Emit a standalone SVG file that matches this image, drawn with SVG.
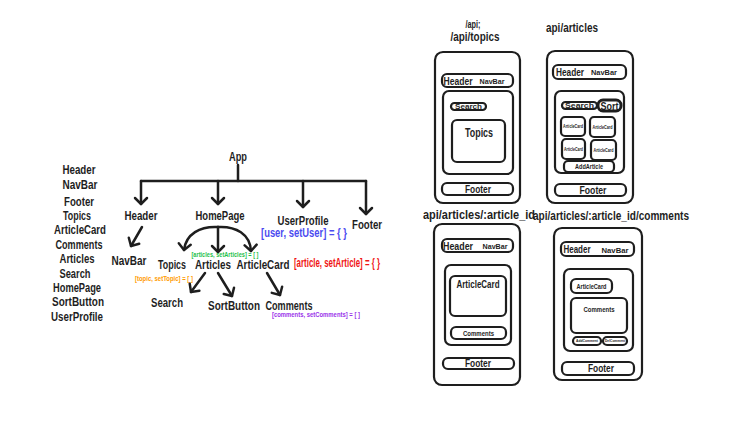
<svg xmlns="http://www.w3.org/2000/svg" width="740" height="426" viewBox="0 0 740 426">
<style>
text{font-family:"Liberation Sans",Arial,sans-serif;font-weight:bold;fill:#1e1e1e;text-anchor:middle;dominant-baseline:central}
.t{font-size:13px}
.l{font-size:13px}
.wl{font-size:12.5px}
.s{font-size:7.5px}
.c{stroke:#1e1e1e;stroke-width:2.5;fill:none;stroke-linecap:round}
.f{stroke:#1e1e1e;stroke-width:2.2;fill:none}
.ft{stroke:#1e1e1e;stroke-width:3;fill:none}
</style>
<defs>
<marker id="ah" markerUnits="userSpaceOnUse" markerWidth="16" markerHeight="16" viewBox="-8 -8 16 16" refX="0" refY="0" orient="auto">
<path d="M-6,-6 L0,0 L-6,6" fill="none" stroke="#1e1e1e" stroke-width="2.5" stroke-linecap="round" stroke-linejoin="round"/>
</marker>
</defs>
<rect width="740" height="426" fill="#ffffff"/>

<g id="component-list">
<text class="l" x="79" y="169" textLength="33" lengthAdjust="spacingAndGlyphs">Header</text>
<text class="l" x="80" y="184" textLength="35" lengthAdjust="spacingAndGlyphs">NavBar</text>
<text class="l" x="79" y="201" textLength="30" lengthAdjust="spacingAndGlyphs">Footer</text>
<text class="l" x="77" y="215" textLength="28" lengthAdjust="spacingAndGlyphs">Topics</text>
<text class="l" x="80" y="229" textLength="52" lengthAdjust="spacingAndGlyphs">ArticleCard</text>
<text class="l" x="79" y="244" textLength="47" lengthAdjust="spacingAndGlyphs">Comments</text>
<text class="l" x="77" y="258" textLength="35" lengthAdjust="spacingAndGlyphs">Articles</text>
<text class="l" x="75" y="273" textLength="31" lengthAdjust="spacingAndGlyphs">Search</text>
<text class="l" x="77" y="287" textLength="48" lengthAdjust="spacingAndGlyphs">HomePage</text>
<text class="l" x="78" y="301" textLength="52" lengthAdjust="spacingAndGlyphs">SortButton</text>
<text class="l" x="77" y="316" textLength="52" lengthAdjust="spacingAndGlyphs">UserProfile</text>
</g>

<g id="connectors">
<path class="c" d="M238,165 L238,181"/>
<path class="c" d="M141,181 L366,181"/>
<path class="c" d="M141,181 L141,204" marker-end="url(#ah)"/>
<path class="c" d="M218,181 L218,204" marker-end="url(#ah)"/>
<path class="c" d="M303,181 L303,207" marker-end="url(#ah)"/>
<path class="c" d="M366,181 L366,214" marker-end="url(#ah)"/>
<path class="c" d="M142,227 L131,246" marker-end="url(#ah)"/>
<path class="c" d="M218,227 C200,226 186,234 184,250" marker-end="url(#ah)"/>
<path class="c" d="M218,227 L218,252" marker-end="url(#ah)"/>
<path class="c" d="M218,227 C236,226 250,234 251,251" marker-end="url(#ah)"/>
<path class="c" d="M205,273 L191,292" marker-end="url(#ah)"/>
<path class="c" d="M218,273 L232,296" marker-end="url(#ah)"/>
<path class="c" d="M267,273 L280,295" marker-end="url(#ah)"/>
</g>

<g id="node-app"><text class="t" x="238" y="156" textLength="18" lengthAdjust="spacingAndGlyphs">App</text></g>
<g id="node-header"><text class="t" x="141" y="215" textLength="33" lengthAdjust="spacingAndGlyphs">Header</text></g>
<g id="node-homepage"><text class="t" x="220" y="215" textLength="49" lengthAdjust="spacingAndGlyphs">HomePage</text></g>
<g id="node-userprofile">
<text class="t" x="303" y="220" textLength="51" lengthAdjust="spacingAndGlyphs">UserProfile</text>
<text x="304" y="233" textLength="86" lengthAdjust="spacingAndGlyphs" style="fill:#4b4bf0;font-size:12.5px">[user, setUser] = { }</text>
</g>
<g id="node-footer"><text class="t" x="367" y="224" textLength="30" lengthAdjust="spacingAndGlyphs">Footer</text></g>
<g id="node-navbar"><text class="t" x="129" y="260" textLength="35" lengthAdjust="spacingAndGlyphs">NavBar</text></g>
<g id="node-topics">
<text class="t" x="172" y="264" textLength="28" lengthAdjust="spacingAndGlyphs">Topics</text>
<text class="s" x="164" y="278" textLength="58" lengthAdjust="spacingAndGlyphs" style="fill:#ff9a00">[topic, setTopic] = [ ]</text>
</g>
<g id="node-articles">
<text class="t" x="213" y="264" textLength="36" lengthAdjust="spacingAndGlyphs">Articles</text>
<text class="s" x="225" y="254" textLength="67" lengthAdjust="spacingAndGlyphs" style="fill:#1fbf4a">[articles, setArticles] = [ ]</text>
</g>
<g id="node-articlecard">
<text class="t" x="263" y="264" textLength="53" lengthAdjust="spacingAndGlyphs">ArticleCard</text>
<text x="337" y="263" textLength="86" lengthAdjust="spacingAndGlyphs" style="fill:#f01414;font-size:12px">[article, setArticle] = { }</text>
</g>
<g id="node-search"><text class="t" x="167" y="302" textLength="32" lengthAdjust="spacingAndGlyphs">Search</text></g>
<g id="node-sortbutton"><text class="t" x="234" y="305" textLength="52" lengthAdjust="spacingAndGlyphs">SortButton</text></g>
<g id="node-comments">
<text class="t" x="289" y="305" textLength="47" lengthAdjust="spacingAndGlyphs">Comments</text>
<text class="s" x="316" y="314.5" textLength="88" lengthAdjust="spacingAndGlyphs" style="fill:#9a32ea">[comments, setComments] = [ ]</text>
</g>

<g id="wireframe-topics">
<text x="473" y="24" textLength="15" lengthAdjust="spacingAndGlyphs" style="font-size:11.5px">/api;</text>
<text class="wl" x="475" y="37" textLength="49" lengthAdjust="spacingAndGlyphs">/api/topics</text>
<rect class="f" x="435" y="52" width="85" height="151" rx="8"/>
<rect class="f" x="442" y="74" width="71" height="13" rx="5"/>
<text x="458" y="80.5" textLength="29" lengthAdjust="spacingAndGlyphs" style="font-size:10.5px">Header</text>
<text x="492" y="81" textLength="25" lengthAdjust="spacingAndGlyphs" style="font-size:8px">NavBar</text>
<rect class="f" x="443" y="91" width="70" height="83" rx="6"/>
<rect class="f" x="451" y="103" width="35" height="7" rx="3.5"/>
<text x="468.5" y="106.5" textLength="27" lengthAdjust="spacingAndGlyphs" style="font-size:7px">Search</text>
<rect class="f" x="452" y="120" width="53" height="42" rx="5"/>
<text x="479" y="133" textLength="28" lengthAdjust="spacingAndGlyphs" style="font-size:12px">Topics</text>
<rect class="f" x="442" y="183" width="71" height="12" rx="5"/>
<text x="478" y="189" textLength="26" lengthAdjust="spacingAndGlyphs" style="font-size:10px">Footer</text>
</g>

<g id="wireframe-articles">
<text class="wl" x="572" y="28" textLength="52" lengthAdjust="spacingAndGlyphs">api/articles</text>
<rect class="f" x="547" y="51" width="86" height="152" rx="8"/>
<rect class="f" x="553" y="65" width="73" height="14" rx="5"/>
<text x="570" y="72" textLength="28" lengthAdjust="spacingAndGlyphs" style="font-size:10.5px">Header</text>
<text x="604" y="72.5" textLength="26" lengthAdjust="spacingAndGlyphs" style="font-size:8px">NavBar</text>
<rect class="f" x="555" y="91" width="69" height="82" rx="6"/>
<rect class="f" x="562" y="102" width="35" height="7" rx="3.5"/>
<text x="579.5" y="105.5" textLength="29" lengthAdjust="spacingAndGlyphs" style="font-size:7px">Search</text>
<rect class="ft" x="598" y="100" width="23" height="11" rx="5"/>
<text x="609.5" y="105.5" textLength="18" lengthAdjust="spacingAndGlyphs" style="font-size:11px">Sort</text>
<rect class="f" x="561" y="117" width="24" height="19" rx="4"/>
<text x="573" y="126.5" textLength="20" lengthAdjust="spacingAndGlyphs" style="font-size:4.5px">ArticleCard</text>
<rect class="f" x="590" y="117" width="25" height="20" rx="4"/>
<text x="602.5" y="127" textLength="20" lengthAdjust="spacingAndGlyphs" style="font-size:4.5px">ArticleCard</text>
<rect class="f" x="562" y="139" width="23" height="20" rx="4"/>
<text x="573.5" y="149" textLength="19" lengthAdjust="spacingAndGlyphs" style="font-size:4.5px">ArticleCard</text>
<rect class="f" x="591" y="140" width="25" height="20" rx="4"/>
<text x="603.5" y="150" textLength="20" lengthAdjust="spacingAndGlyphs" style="font-size:4.5px">ArticleCard</text>
<rect class="f" x="564" y="161" width="50" height="11" rx="4"/>
<text x="589" y="166.5" textLength="28" lengthAdjust="spacingAndGlyphs" style="font-size:7.5px">AddArticle</text>
<rect class="f" x="555" y="184" width="71" height="12" rx="5"/>
<text x="593" y="190" textLength="27" lengthAdjust="spacingAndGlyphs" style="font-size:10px">Footer</text>
</g>

<g id="wireframe-article">
<text class="wl" x="479" y="215" textLength="112" lengthAdjust="spacingAndGlyphs">api/articles/:article_id</text>
<rect class="f" x="434" y="224" width="86" height="161" rx="8"/>
<rect class="f" x="442" y="239" width="71" height="13" rx="5"/>
<text x="458" y="245.5" textLength="30" lengthAdjust="spacingAndGlyphs" style="font-size:10.5px">Header</text>
<text x="495" y="246" textLength="25" lengthAdjust="spacingAndGlyphs" style="font-size:8px">NavBar</text>
<rect class="f" x="445" y="265" width="66" height="80" rx="6"/>
<rect class="f" x="450" y="276" width="56" height="40" rx="5"/>
<text x="478" y="284" textLength="43" lengthAdjust="spacingAndGlyphs" style="font-size:10px">ArticleCard</text>
<rect class="f" x="451" y="327" width="55" height="12" rx="5"/>
<text x="478.5" y="333" textLength="31" lengthAdjust="spacingAndGlyphs" style="font-size:6.5px">Comments</text>
<rect class="f" x="443" y="358" width="71" height="11" rx="5"/>
<text x="478" y="363.5" textLength="26" lengthAdjust="spacingAndGlyphs" style="font-size:10px">Footer</text>
</g>

<g id="wireframe-comments">
<text class="wl" x="611" y="216" textLength="156" lengthAdjust="spacingAndGlyphs">api/articles/:article_id/comments</text>
<rect class="f" x="554" y="228" width="88" height="152" rx="8"/>
<rect class="f" x="561" y="242" width="73" height="14" rx="5"/>
<text x="577" y="249" textLength="27" lengthAdjust="spacingAndGlyphs" style="font-size:10.5px">Header</text>
<text x="615" y="250" textLength="27" lengthAdjust="spacingAndGlyphs" style="font-size:8px">NavBar</text>
<rect class="f" x="564" y="269" width="69" height="82" rx="6"/>
<rect class="f" x="571" y="279" width="41" height="14" rx="5"/>
<text x="591.5" y="286" textLength="30" lengthAdjust="spacingAndGlyphs" style="font-size:6.5px">ArticleCard</text>
<rect class="f" x="571" y="298" width="56" height="35" rx="5"/>
<text x="599" y="309" textLength="31" lengthAdjust="spacingAndGlyphs" style="font-size:7px">Comments</text>
<rect class="f" x="573" y="337" width="28" height="8" rx="4"/>
<text x="587" y="341" textLength="22" lengthAdjust="spacingAndGlyphs" style="font-size:3.5px">AddComment</text>
<rect class="f" x="603" y="337" width="24" height="8" rx="4"/>
<text x="615" y="341" textLength="20" lengthAdjust="spacingAndGlyphs" style="font-size:3.5px">DelComment</text>
<rect class="f" x="562" y="362" width="72" height="13" rx="5"/>
<text x="601" y="368.5" textLength="26" lengthAdjust="spacingAndGlyphs" style="font-size:10px">Footer</text>
</g>
</svg>
